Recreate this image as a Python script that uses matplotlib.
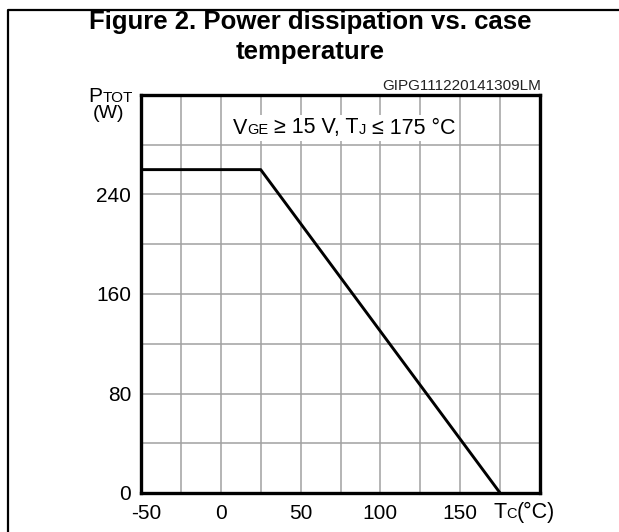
import matplotlib
matplotlib.use("Agg")
import matplotlib.pyplot as plt
import matplotlib.transforms as mtransforms
from matplotlib.lines import Line2D
from matplotlib.offsetbox import TextArea, HPacker, AnnotationBbox

plt.rcParams['font.family'] = ['Liberation Sans', 'DejaVu Sans']

# derating curve: flat up to 25 C, then linear down to 0 W at 175 C
tc = [-50, 25, 175]
ptot = [260, 260, 0]

x_grid = [-50, -25, 0, 25, 50, 75, 100, 125, 150, 175, 200]
x_labels = ['-50', '', '0', '', '50', '', '100', '', '150', '', '']
y_grid = [0, 40, 80, 120, 160, 200, 240, 280, 320]
y_labels = ['0', '', '80', '', '160', '', '240', '', '']

W, H = 619, 532
fig = plt.figure(figsize=(W / 100, H / 100), dpi=100)
ax = fig.add_axes([141 / W, 1 - 493 / H, 399 / W, 398 / H])

ax.plot(tc, ptot, color='black', lw=2.1, solid_capstyle='butt', zorder=3)
ax.set_xlim(-50, 200)
ax.set_ylim(0, 320)
ax.set_xticks(x_grid)
ax.set_xticklabels(x_labels)
ax.set_yticks(y_grid)
ax.set_yticklabels(y_labels)
ax.tick_params(length=0, labelsize=15, pad=7)
ax.tick_params(axis='x', pad=8)
ax.grid(True, color='#a0a0a0', lw=1.1)
for s in ax.spines.values():
    s.set_linewidth(2.4)
    s.set_zorder(4)

# nudge the -50 label right like in the original
lbl = ax.get_xticklabels()[0]
lbl.set_transform(lbl.get_transform() + mtransforms.ScaledTranslation(5 / 100, 0, fig.dpi_scale_trans))


def rich(pieces, color='black'):
    boxes = [TextArea(s, textprops=dict(size=sz, color=color)) for s, sz in pieces]
    return HPacker(children=boxes, align='baseline', pad=0, sep=0)


# condition text with white background
cond = rich([('V', 15.5), ('GE', 10.5), (' \u2265 15 V, T', 15.5), ('J', 10.5), (' \u2264 175 \u00b0C', 15.5)])
ab = AnnotationBbox(cond, (233, H - 128), xycoords='figure pixels', box_alignment=(0, 0.5),
                    frameon=True, pad=0.2, bboxprops=dict(facecolor='white', edgecolor='none'))
ab.set_zorder(5)
fig.add_artist(ab)

# y axis label, two lines
ab = AnnotationBbox(rich([('P', 15), ('TOT', 11)]), (133, H - 97), xycoords='figure pixels',
                    box_alignment=(1, 0.5), frameon=False)
fig.add_artist(ab)
ab = AnnotationBbox(rich([('(W)', 14)]), (124, H - 113), xycoords='figure pixels',
                    box_alignment=(1, 0.5), frameon=False)
fig.add_artist(ab)

# x axis label
xlab = rich([('T', 15.5), ('C', 10.5), ('(\u00b0C)', 15.5)])
ab = AnnotationBbox(xlab, (493, H - 512), xycoords='figure pixels', box_alignment=(0, 0.5),
                    frameon=False)
fig.add_artist(ab)

fig.text(541 / W, 1 - 86 / H, 'GIPG111220141309LM', ha='right', va='center', size=11, color='#222222')

fig.text(310 / W, 1 - 22 / H, 'Figure 2. Power dissipation vs. case', ha='center', va='center',
         size=18.5, weight='bold')
fig.text(310 / W, 1 - 52 / H, 'temperature', ha='center', va='center', size=18.5, weight='bold')

# outer frame (left and top edges)
fig.add_artist(Line2D([7.5 / W, 7.5 / W, 1], [0, 1 - 10 / H, 1 - 10 / H], color='black', lw=1.6,
                      transform=fig.transFigure))

fig.savefig('out.png', dpi=100)
